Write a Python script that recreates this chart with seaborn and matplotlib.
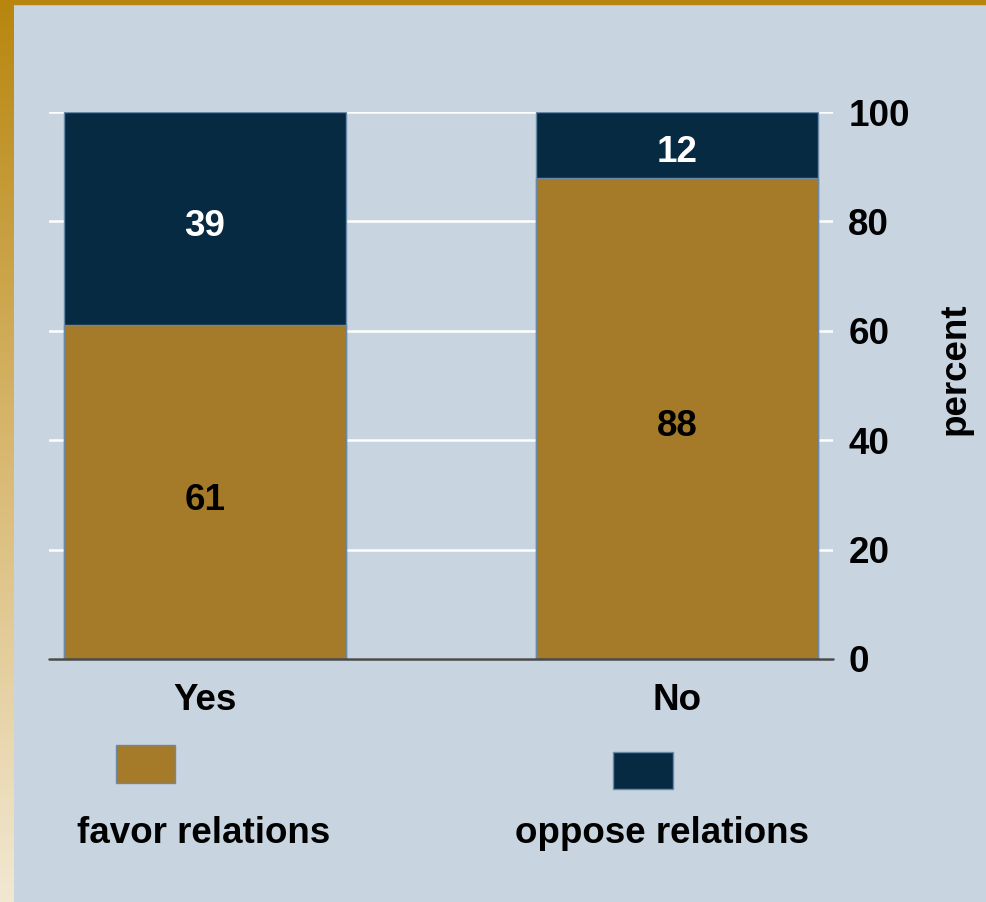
import numpy as np
import pandas as pd
import seaborn as sns
import matplotlib.pyplot as plt
from matplotlib.patches import Rectangle
from matplotlib.colors import LinearSegmentedColormap
from matplotlib.transforms import offset_copy

responses = ["Yes", "No"]
favor = [61, 88]
oppose = [39, 12]
series_names = ["favor relations", "oppose relations"]
yticks = [0, 20, 40, 60, 80, 100]

GOLD = "#A57A28"
NAVY = "#072A43"
BG = "#C8D4E0"
EDGE = "#6A88A8"

df = pd.DataFrame({"response": responses, "favor": favor, "oppose": oppose})
df["total"] = df["favor"] + df["oppose"]

sns.set_style("white")
plt.rcParams["font.family"] = ["Liberation Sans", "DejaVu Sans"]
plt.rcParams["font.weight"] = "bold"
for k in ["text.color", "xtick.color", "ytick.color", "axes.labelcolor"]:
    plt.rcParams[k] = "black"
FS = 26.5

fig = plt.figure(figsize=(9.87, 9.02), dpi=100, facecolor=BG)

# decorative frame: gradient strip on the left, gold strip on top
strip = fig.add_axes([0, 0, 14 / 987, 1])
cmap = LinearSegmentedColormap.from_list("frame", ["#B8860E", "#D8B870", "#F2E8D2"])
strip.imshow(np.linspace(0, 1, 256).reshape(-1, 1), aspect="auto", cmap=cmap)
strip.axis("off")
fig.add_artist(Rectangle((0, 1 - 4 / 902), 1, 4 / 902, transform=fig.transFigure,
                         color="#B8860E", zorder=5))

ax = fig.add_axes([49 / 987, 1 - 659 / 902, 784 / 987, 547 / 902])
ax.set_facecolor(BG)

# stacked bars: full height in navy, favor share in gold on top of it
sns.barplot(data=df, x="response", y="total", color=NAVY, width=0.597,
            edgecolor=EDGE, linewidth=1, saturation=1, ax=ax, zorder=2)
sns.barplot(data=df, x="response", y="favor", color=GOLD, width=0.597,
            edgecolor=EDGE, linewidth=1, saturation=1, ax=ax, zorder=3)

# segment labels, nudged a little below the segment centre like the original
tr = offset_copy(ax.transData, fig=fig, y=-8, units="dots")
for i, (f, o) in enumerate(zip(favor, oppose)):
    ax.text(i, f / 2, str(f), ha="center", va="center", color="black",
            fontsize=FS, fontweight="bold", zorder=5, transform=tr)
    ax.text(i, f + o / 2, str(o), ha="center", va="center", color="white",
            fontsize=FS, fontweight="bold", zorder=5, transform=tr)

ax.set_xlim(-0.33, 1.33)
ax.set_ylim(0, 100)
ax.set_yticks(yticks)
ax.yaxis.tick_right()
ax.grid(axis="y", color="white", lw=1.8, zorder=0)
ax.set_axisbelow(True)
ax.axhline(0, color="#4A4A4A", lw=1.8, zorder=4, clip_on=False)
for s in ax.spines.values():
    s.set_visible(False)
ax.tick_params(axis="y", length=0, pad=11, labelsize=FS)
ax.tick_params(axis="x", length=0, pad=17, labelsize=FS)
for lab in ax.get_xticklabels() + ax.get_yticklabels():
    lab.set_fontweight("bold")
ax.set_xlabel("")
ax.set_ylabel("percent", fontsize=FS, fontweight="bold", rotation=90)
ax.yaxis.set_label_position("right")
ax.yaxis.set_label_coords(1.156, 0.53)
ax.yaxis.label.set_va("center")
ax.yaxis.label.set_ha("center")

# legend: swatch above each label
W, H = 987, 902
swatches = [(116, 745, 59, 38, GOLD), (613, 752, 60, 37, NAVY)]
label_x = [204, 662]
for (x0, y0, w, h, c), name, lx in zip(swatches, series_names, label_x):
    fig.add_artist(Rectangle((x0 / W, 1 - (y0 + h) / H), w / W, h / H,
                             transform=fig.transFigure, facecolor=c,
                             edgecolor=EDGE, lw=1))
    fig.text(lx / W, 1 - 843 / H, name, ha="center", va="baseline",
             fontsize=FS, fontweight="bold")

fig.savefig("out.png", dpi=100, facecolor=BG)
